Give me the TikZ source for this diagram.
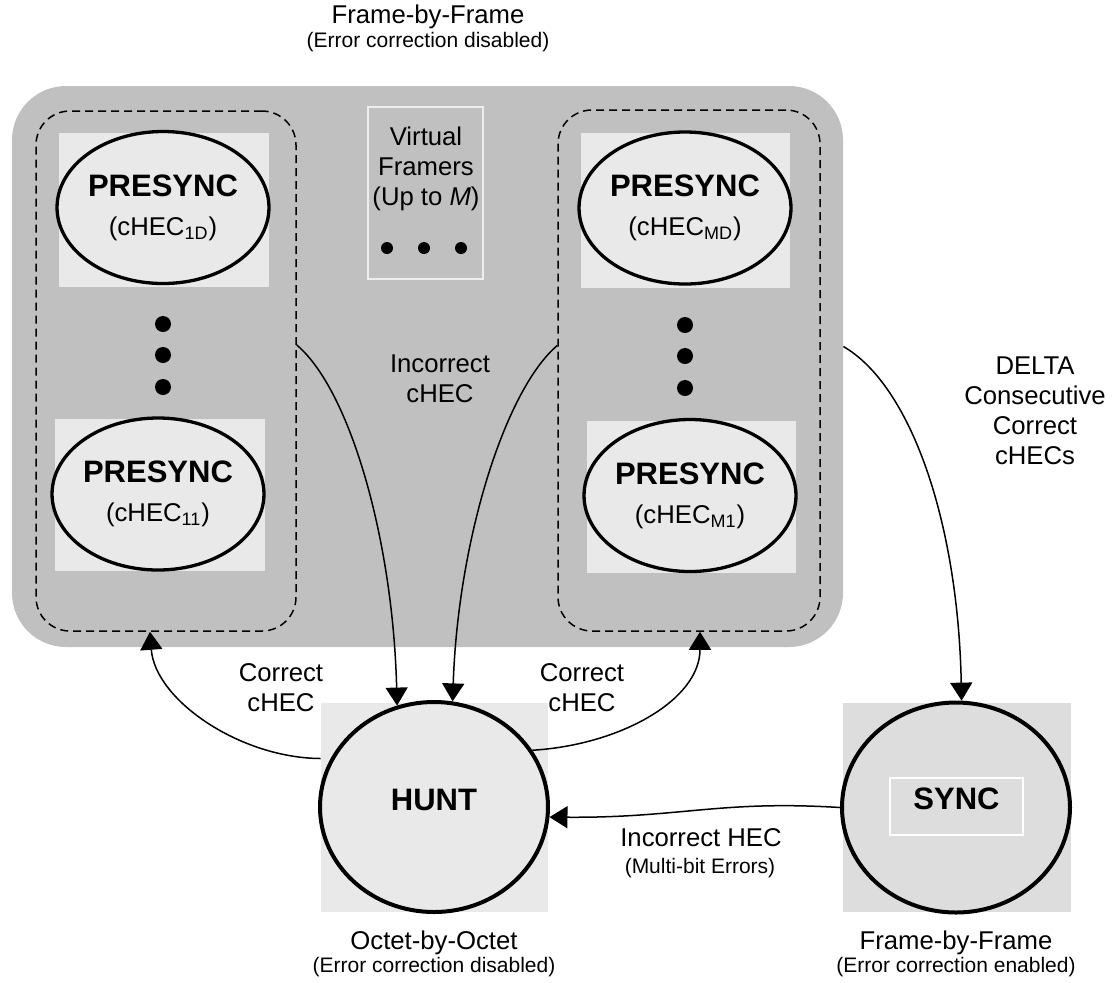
\documentclass[tikz,border=0pt]{standalone}
\usepackage{fontspec}
\setmainfont{Liberation Sans}
\usepackage{tikz}
\usetikzlibrary{positioning,shapes.geometric,arrows.meta}
\definecolor{outergrey}{HTML}{C0C0C0}
\definecolor{lightgrey}{HTML}{E9E9E9}
\definecolor{syncgrey}{HTML}{DDDDDD}
\definecolor{framegrey}{HTML}{EEEEEE}
\tikzset{pre node/.style={ellipse,draw,line width=1.65pt,fill=lightgrey,minimum width=105pt,minimum height=76pt,inner sep=0pt,align=center,font=\fontsize{12.85}{19.5}\selectfont},
state node/.style={ellipse,draw,line width=2pt,minimum width=114pt,minimum height=105pt,inner sep=0pt,text height=11.1pt,text depth=8.1pt,font=\fontsize{15.5}{18}\selectfont\bfseries},
back box/.style={rectangle,fill=lightgrey,inner sep=0pt},
group box/.style={draw,dash pattern=on 4pt off 2.5pt,line width=0.75pt,rounded corners=17pt,inner sep=0pt},
big dot/.style={circle,fill=black,minimum size=8pt,inner sep=0pt},
small dot/.style={circle,fill=black,minimum size=6pt,inner sep=0pt},
lbl/.style={align=center,inner sep=0pt,font=\fontsize{12.85}{15}\selectfont},
small lbl/.style={align=center,inner sep=0pt,font=\fontsize{10.5}{12}\selectfont},
trans/.style={-{Triangle[length=9pt,width=11pt]},line width=0.75pt},
}
\newcommand{\presync}[1]{{\fontsize{15.5}{19.5}\selectfont\bfseries PRESYNC}\\(cHEC\textsubscript{#1})}

\begin{document}
\begin{tikzpicture}[x=0.5pt,y=-0.5pt]
\useasboundingbox (0,0) rectangle (1114,982);

%% outer frame-by-frame region
\node[fill=outergrey,rounded corners=27pt,minimum width=415.5pt,minimum height=280.5pt,inner sep=0pt] (outer) at (427.5,366.5) {};
\node[group box,minimum width=130pt,minimum height=260pt] (leftgroup) at (166,371) {};
\node[group box,minimum width=131pt,minimum height=260.5pt] (rightgroup) at (689,370.5) {};

%% presync states
\node[back box,minimum width=105pt,minimum height=77pt] (boxOneD) at (164,210) {};
\node[back box,minimum width=105pt,minimum height=76pt] (boxOneOne) at (160,495) {};
\node[back box,minimum width=104.5pt,minimum height=77.5pt] (boxMD) at (685.5,210.5) {};
\node[back box,minimum width=104.5pt,minimum height=76pt] (boxMOne) at (691.5,497) {};
\node[pre node] (presyncOneD) at (163,207.5) {\presync{1D}};
\node[pre node] (presyncOneOne) at (158,494) {\presync{11}};
\node[pre node,minimum width=105.5pt] (presyncMD) at (685,208) {\presync{MD}};
\node[pre node] (presyncMOne) at (690,495.5) {\presync{M1}};

\foreach \y [count=\i] in {324,355,387} {
  \node[big dot] (ldot\i) at (163,\y) {};
  \node[big dot] (rdot\i) at (685,\y+1) {};
}

%% virtual framers
\node[draw=framegrey,line width=0.75pt,minimum width=57.5pt,minimum height=86pt,inner sep=0pt] (framers) at (425.5,193) {};
\node[lbl] (framerstext) at (426,169) {Virtual\\Framers\\(Up to \textit{M})};
\foreach \x [count=\i] in {387,424,461}
  \node[small dot] (hdot\i) at (\x,248) {};

%% hunt and sync
\node[back box,minimum width=113.5pt,minimum height=104.5pt] (huntbox) at (434.5,807.5) {};
\node[state node,fill=lightgrey] (hunt) at (434,807) {HUNT};
\node[back box,fill=syncgrey,minimum width=114pt,minimum height=104.5pt] (syncbox) at (957,807.5) {};
\node[state node,fill=syncgrey] (sync) at (956,807.5) {};
\node[draw=white,line width=0.6pt,minimum width=66.5pt,minimum height=28.5pt,inner sep=0pt,text height=11.1pt,text depth=8.1pt,font=\fontsize{15.5}{18}\selectfont\bfseries] (synclabel) at (956.5,806.5) {SYNC};

%% labels
\node[lbl] (toptitle) at (428,17) {Frame-by-Frame};
\node[small lbl] (topnote) at (428,42) {(Error correction disabled)};
\node[lbl] (incorrect) at (440,379) {Incorrect\\cHEC};
\node[lbl] (delta) at (1035,411) {DELTA\\Consecutive\\Correct\\cHECs};
\node[lbl] (correctleft) at (281,688) {Correct\\cHEC};
\node[lbl] (correctright) at (582,688) {Correct\\cHEC};
\node[lbl] (incorrecthec) at (701,838) {Incorrect HEC};
\node[small lbl] (multibit) at (700,868) {(Multi-bit Errors)};
\node[lbl] (octet) at (434,943) {Octet-by-Octet};
\node[small lbl] (octetnote) at (434,967) {(Error correction disabled)};
\node[lbl] (framebot) at (956,943) {Frame-by-Frame};
\node[small lbl] (framenote) at (956,967) {(Error correction enabled)};

%% transitions
\draw[trans] ([yshift=13pt]leftgroup.east) .. controls (350,390) and (393,540) .. (hunt.110);
\draw[trans] ([yshift=12.5pt]rightgroup.west) .. controls (505,390) and (458,540) .. (hunt.80);
\draw[trans] ([yshift=24.5pt]huntbox.west) .. controls (240,758) and (155,700) .. ([xshift=-8pt]leftgroup.south);
\draw[trans] (hunt.30) .. controls (620,745) and (700,700) .. ([xshift=5.5pt]rightgroup.south);
\draw[trans] ([yshift=10pt]outer.east) .. controls (910,385) and (958,520) .. (sync.87);
\draw[trans] (sync.west) .. controls (720,800) and (680,818) .. (hunt.-5);
\end{tikzpicture}
\end{document}
